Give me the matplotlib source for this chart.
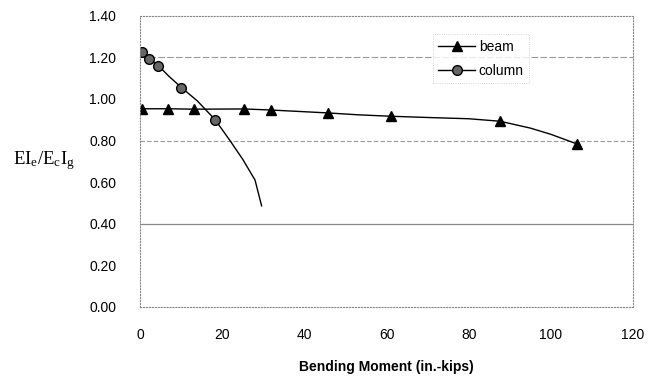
import matplotlib
matplotlib.use('Agg')
import matplotlib.pyplot as plt
import numpy as np

plt.rcParams['font.family'] = ['Liberation Sans', 'DejaVu Sans']
plt.rcParams['mathtext.fontset'] = 'custom'
plt.rcParams['mathtext.rm'] = 'Liberation Serif'
plt.rcParams['mathtext.it'] = 'Liberation Serif:italic'

# beam data (markers sit on the curve)
beam_moment = [0.6, 6.7, 13.2, 25.4, 31.8, 45.7, 61.0, 87.6, 106.3]
beam_ratio = [0.953, 0.953, 0.950, 0.950, 0.947, 0.933, 0.917, 0.893, 0.784]
beam_curve_moment = [0.6, 6.7, 13.2, 25.4, 31.8, 45.7, 53.0, 61.0, 70.0, 80.0, 87.6, 95.0, 100.0, 106.3]
beam_curve_ratio = [0.953, 0.953, 0.951, 0.952, 0.947, 0.933, 0.924, 0.917, 0.911, 0.905, 0.893, 0.860, 0.830, 0.784]

# column data
col_moment = [0.4, 2.3, 4.5, 10.1, 18.3]
col_ratio = [1.228, 1.190, 1.160, 1.055, 0.900]
col_curve_moment = [0.4, 2.3, 4.5, 7.0, 10.1, 14.0, 18.3, 21.9, 25.0, 28.0, 29.6]
col_curve_ratio = [1.228, 1.190, 1.160, 1.110, 1.055, 0.990, 0.900, 0.800, 0.710, 0.610, 0.486]

fig = plt.figure(figsize=(6.48, 3.77), dpi=100)
ax = fig.add_axes([0.216, 0.186, 0.761, 0.772])

# gridlines as they show up in the scan
ax.axhline(1.2, color='#999999', lw=0.8, ls=(0, (6, 2)), zorder=0)
ax.axhline(0.8, color='#999999', lw=0.8, ls=(0, (4, 2)), zorder=0)
ax.axhline(0.4, color='#888888', lw=0.9, ls='-', zorder=0)

ax.plot(beam_curve_moment, beam_curve_ratio, color='black', lw=1.0)
ax.plot(col_curve_moment, col_curve_ratio, color='black', lw=1.0)
ax.plot(beam_moment, beam_ratio, ls='none', marker='^', ms=7, color='black')
ax.plot(col_moment, col_ratio, ls='none', marker='o', ms=7, mfc='#666666', mec='black', mew=1.0)

# legend handles
ax.plot([], [], color='black', lw=1.0, marker='^', ms=7, label='beam')
ax.plot([], [], color='black', lw=1.0, marker='o', ms=7, mfc='#666666', mec='black', label='column')
leg = ax.legend(loc='upper left', bbox_to_anchor=(0.58, 0.96), frameon=True, fancybox=False,
                fontsize=10, handlelength=2.6, handletextpad=0.3, borderpad=0.4, labelspacing=0.7)
leg.get_frame().set_edgecolor('#bbbbbb')
leg.get_frame().set_linewidth(0.6)
leg.get_frame().set_linestyle(':')

ax.set_xlim(0, 120)
ax.set_ylim(0, 1.4)
ax.set_xticks(np.arange(0, 121, 20))
ax.set_yticks(np.arange(0, 1.41, 0.2))
ax.set_yticklabels([f'{v:.2f}' for v in np.arange(0, 1.41, 0.2)])
ax.tick_params(axis='both', length=0, labelsize=10)
ax.tick_params(axis='y', pad=17)
ax.tick_params(axis='x', pad=15)

for s in ax.spines.values():
    s.set_color('#888888')
    s.set_linewidth(0.8)
    s.set_linestyle(':')

ax.set_xlabel('Bending Moment (in.-kips)', fontsize=10, fontweight='bold', labelpad=13)
fig.text(0.02, 0.575, r'$\mathrm{EI_e/E_cI_g}$', fontsize=13.5, ha='left', va='center')

plt.savefig('out.png', dpi=100)
